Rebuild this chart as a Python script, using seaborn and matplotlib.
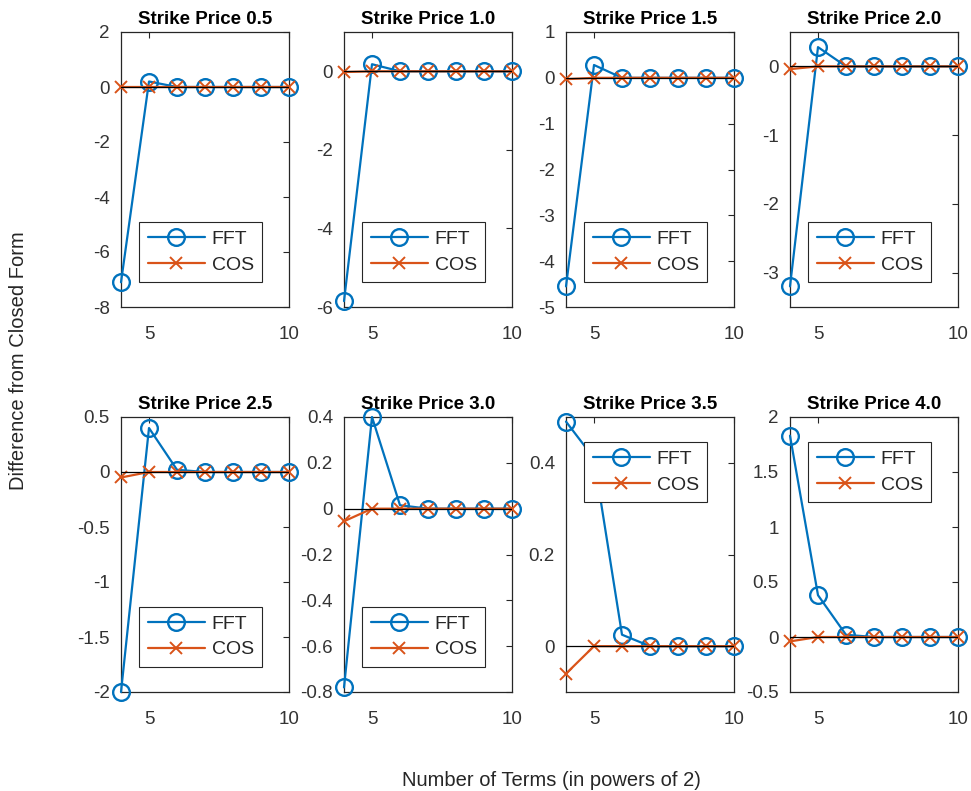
import matplotlib
matplotlib.use("Agg")
import matplotlib.pyplot as plt
import seaborn as sns
import pandas as pd
from matplotlib.ticker import FuncFormatter, MultipleLocator

terms = [4, 5, 6, 7, 8, 9, 10]
strikes = ["0.5", "1.0", "1.5", "2.0", "2.5", "3.0", "3.5", "4.0"]

fft_05 = [-7.1, 0.2, 0.0, 0.0, 0.0, 0.0, 0.0]
fft_10 = [-5.85, 0.18, 0.0, 0.0, 0.0, 0.0, 0.0]
fft_15 = [-4.55, 0.28, 0.0, 0.0, 0.0, 0.0, 0.0]
fft_20 = [-3.2, 0.28, 0.0, 0.0, 0.0, 0.0, 0.0]
fft_25 = [-2.0, 0.4, 0.02, 0.0, 0.0, 0.0, 0.0]
fft_30 = [-0.78, 0.4, 0.015, 0.0, 0.0, 0.0, 0.0]
fft_35 = [0.49, 0.41, 0.025, 0.0, 0.0, 0.0, 0.0]
fft_40 = [1.83, 0.38, 0.02, 0.0, 0.0, 0.0, 0.0]

cos_05 = [0.0, 0.0, 0.0, 0.0, 0.0, 0.0, 0.0]
cos_10 = [-0.02, 0.0, 0.0, 0.0, 0.0, 0.0, 0.0]
cos_15 = [-0.03, 0.0, 0.0, 0.0, 0.0, 0.0, 0.0]
cos_20 = [-0.04, 0.0, 0.0, 0.0, 0.0, 0.0, 0.0]
cos_25 = [-0.05, 0.0, 0.0, 0.0, 0.0, 0.0, 0.0]
cos_30 = [-0.055, 0.0, 0.0, 0.0, 0.0, 0.0, 0.0]
cos_35 = [-0.06, 0.0, 0.0, 0.0, 0.0, 0.0, 0.0]
cos_40 = [-0.04, 0.0, 0.0, 0.0, 0.0, 0.0, 0.0]

fft_all = [fft_05, fft_10, fft_15, fft_20, fft_25, fft_30, fft_35, fft_40]
cos_all = [cos_05, cos_10, cos_15, cos_20, cos_25, cos_30, cos_35, cos_40]

ylims = [(-8, 2), (-6, 1), (-5, 1), (-3.5, 0.5), (-2, 0.5), (-0.8, 0.4), (-0.1, 0.5), (-0.5, 2)]
ysteps = [2, 2, 1, 1, 0.5, 0.2, 0.2, 0.5]
legend_upper = [False, False, False, False, False, False, True, True]

sns.set_style("white")
plt.rcParams["font.family"] = ["Liberation Sans", "DejaVu Sans"]
plt.rcParams["axes.unicode_minus"] = False

fig = plt.figure(figsize=(9.71, 7.91), dpi=100)

lefts = [121, 344, 566, 790]
W, H = 971, 791
tops = [32, 417]
aw, ah = 168, 275

blue = "#0072BD"
orange = "#D95319"
dark = "#262626"

fmt = FuncFormatter(lambda v, p: ("%g" % round(v, 6)))

for i in range(8):
    r, c = divmod(i, 4)
    ax = fig.add_axes([lefts[c] / W, 1 - (tops[r] + ah) / H, aw / W, ah / H])
    df = pd.DataFrame({
        "terms": terms * 2,
        "diff": fft_all[i] + cos_all[i],
        "method": ["FFT"] * 7 + ["COS"] * 7,
    })
    sns.lineplot(data=df[df.method == "FFT"], x="terms", y="diff", ax=ax, color=blue,
                 marker="o", markersize=12, markerfacecolor="none", markeredgecolor=blue,
                 markeredgewidth=1.7, linewidth=1.6, label="FFT", zorder=3, clip_on=False)
    sns.lineplot(data=df[df.method == "COS"], x="terms", y="diff", ax=ax, color=orange,
                 marker="x", markersize=8.5, markeredgecolor=orange, markeredgewidth=1.4,
                 linewidth=1.6, label="COS", zorder=4, clip_on=False)
    ax.plot([terms[0], terms[-1]], [0, 0], color="black", linewidth=0.9, zorder=5)
    ax.set_xlim(4, 10)
    ax.set_ylim(*ylims[i])
    ax.set_xticks([5, 10])
    ax.yaxis.set_major_locator(MultipleLocator(ysteps[i]))
    ax.yaxis.set_major_formatter(fmt)
    ax.set_xlabel("")
    ax.set_ylabel("")
    ax.set_title("Strike Price " + strikes[i], fontsize=13.5, fontweight="bold", pad=6,
                 color="black")
    ax.tick_params(direction="in", length=4, width=0.8, labelsize=13.5, colors=dark,
                   top=True, right=True, labelcolor="#333333")
    ax.tick_params(axis="x", pad=14)
    ax.tick_params(axis="y", pad=8)
    for s in ax.spines.values():
        s.set_color(dark)
        s.set_linewidth(0.9)
        s.set_visible(True)
    anchor = (0.11, 0.69) if legend_upper[i] else (0.11, 0.09)
    leg = ax.legend(loc="lower left", bbox_to_anchor=anchor, borderaxespad=0,
                    fontsize=14, frameon=True, fancybox=False, handlelength=2.9,
                    handletextpad=0.36, borderpad=0.45, labelspacing=0.4)
    leg.get_frame().set_edgecolor(dark)
    leg.get_frame().set_linewidth(0.8)
    leg.get_frame().set_alpha(1)

fig.text(551 / W, 1 - 780 / H, "Number of Terms (in powers of 2)", ha="center", va="center",
         fontsize=14.5, color=dark)
fig.text(19 / W, 1 - 361 / H, "Difference from Closed Form", ha="center", va="center",
         rotation=90, fontsize=14.5, color=dark)

fig.savefig("out.png", dpi=100, facecolor="white")
